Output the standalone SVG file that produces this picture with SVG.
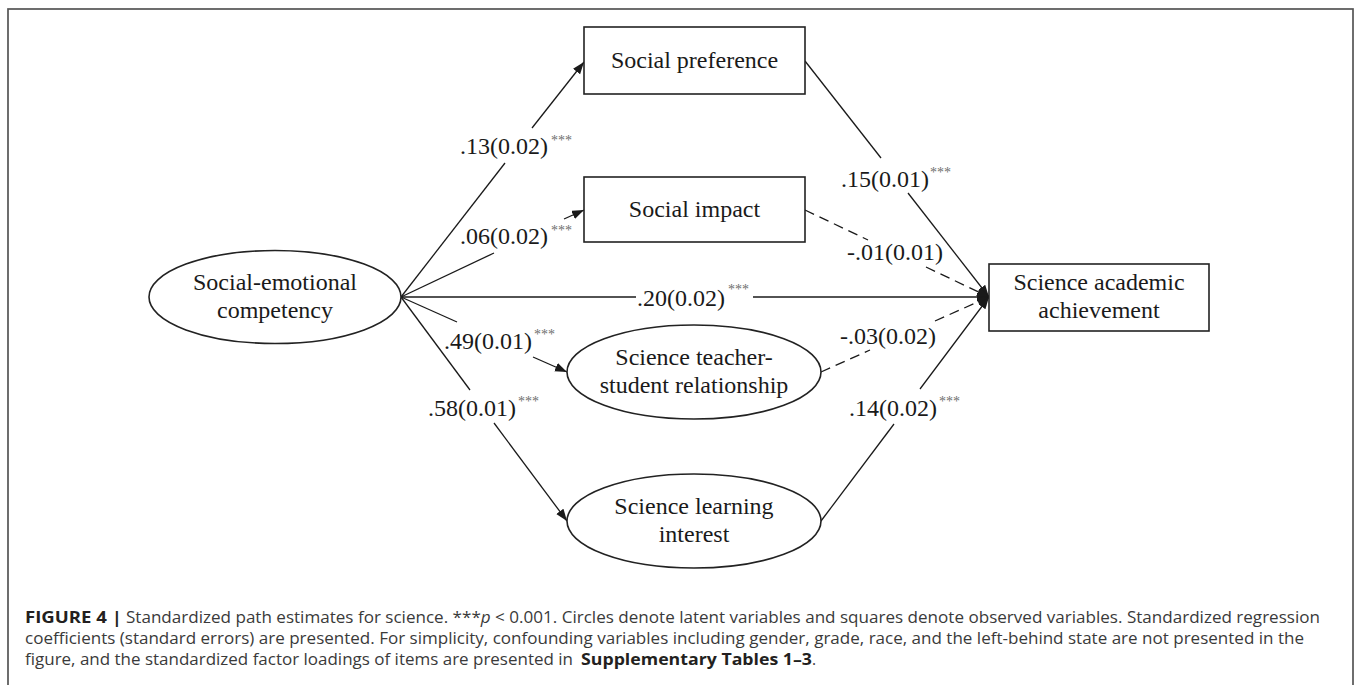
<svg xmlns="http://www.w3.org/2000/svg" width="1357" height="685" viewBox="0 0 1357 685">
<style>
.box{fill:#fff;stroke:#222;stroke-width:1.6}
.nt{font-family:"Liberation Serif","Times New Roman",serif;font-size:24px;fill:#1a1a1a;text-anchor:middle}
.lb{font-family:"Liberation Serif","Times New Roman",serif;font-size:24px;fill:#1a1a1a}
.st{font-family:"Liberation Serif","Times New Roman",serif;font-size:14px;fill:#6e6e6e}
.ln{stroke:#1a1a1a;stroke-width:1.3;fill:none}
.dash{stroke-dasharray:10 6}
.cap{font-family:"Open Sans","Liberation Sans",sans-serif;font-size:15.5px;fill:#3a3a3a}
.capb{font-weight:bold;fill:#231f20}
</style>
<defs>
<marker id="ah" markerUnits="userSpaceOnUse" markerWidth="13" markerHeight="10" refX="12" refY="4.5" orient="auto">
<path d="M0,0 L12,4.5 L0,9 z" fill="#1a1a1a"/>
</marker>
</defs>
<rect x="8" y="9" width="1345" height="700" fill="none" stroke="#555" stroke-width="1.7"/>

<g id="connectors">
  <g id="c-sec-pref">
    <line class="ln" x1="401" y1="297" x2="505" y2="163"/>
    <line class="ln" x1="532" y1="128" x2="584" y2="62" marker-end="url(#ah)"/>
    <text class="lb" x="460" y="154">.13(0.02)</text>
    <text class="st" x="551" y="145">***</text>
  </g>
  <g id="c-sec-impact">
    <line class="ln" x1="401" y1="297" x2="494" y2="253"/>
    <line class="ln" x1="564" y1="219" x2="584" y2="210" marker-end="url(#ah)"/>
    <text class="lb" x="460" y="244">.06(0.02)</text>
    <text class="st" x="551" y="235">***</text>
  </g>
  <g id="c-sec-ach">
    <line class="ln" x1="401" y1="297" x2="636" y2="297"/>
    <line class="ln" x1="753" y1="297" x2="989" y2="297" marker-end="url(#ah)"/>
    <text class="lb" x="637" y="306">.20(0.02)</text>
    <text class="st" x="728" y="294">***</text>
  </g>
  <g id="c-sec-teacher">
    <line class="ln" x1="401" y1="297" x2="457" y2="322"/>
    <line class="ln" x1="533" y1="357" x2="567" y2="372" marker-end="url(#ah)"/>
    <text class="lb" x="444" y="349">.49(0.01)</text>
    <text class="st" x="534" y="339">***</text>
  </g>
  <g id="c-sec-learn">
    <line class="ln" x1="401" y1="297" x2="470" y2="390"/>
    <line class="ln" x1="494" y1="423" x2="567" y2="521" marker-end="url(#ah)"/>
    <text class="lb" x="428" y="416">.58(0.01)</text>
    <text class="st" x="518" y="406">***</text>
  </g>
  <g id="c-pref-ach">
    <line class="ln" x1="805" y1="61" x2="881" y2="158"/>
    <line class="ln" x1="908" y1="193" x2="989" y2="297" marker-end="url(#ah)"/>
    <text class="lb" x="841" y="187">.15(0.01)</text>
    <text class="st" x="930" y="177">***</text>
  </g>
  <g id="c-impact-ach">
    <line class="ln dash" x1="805" y1="210" x2="868" y2="240"/>
    <line class="ln dash" x1="926" y1="267" x2="989" y2="297" marker-end="url(#ah)"/>
    <text class="lb" x="847" y="260">-.01(0.01)</text>
  </g>
  <g id="c-teacher-ach">
    <line class="ln dash" x1="821" y1="372" x2="870" y2="350"/>
    <line class="ln dash" x1="935" y1="321" x2="989" y2="297" marker-end="url(#ah)"/>
    <text class="lb" x="840" y="344">-.03(0.02)</text>
  </g>
  <g id="c-learn-ach">
    <line class="ln" x1="821" y1="521" x2="894" y2="424"/>
    <line class="ln" x1="920" y1="389" x2="989" y2="297" marker-end="url(#ah)"/>
    <text class="lb" x="849" y="416">.14(0.02)</text>
    <text class="st" x="939" y="406">***</text>
  </g>
</g>

<g id="node-sec">
  <ellipse class="box" cx="275" cy="297" rx="126" ry="46.5"/>
  <text class="nt" x="275" y="290">Social-emotional</text>
  <text class="nt" x="275" y="318">competency</text>
</g>
<g id="node-pref">
  <rect class="box" x="584" y="27" width="221" height="67"/>
  <text class="nt" x="694.5" y="68">Social preference</text>
</g>
<g id="node-impact">
  <rect class="box" x="584" y="177" width="221" height="65"/>
  <text class="nt" x="694.5" y="217">Social impact</text>
</g>
<g id="node-teacher">
  <ellipse class="box" cx="694" cy="372" rx="127" ry="47"/>
  <text class="nt" x="694" y="365">Science teacher-</text>
  <text class="nt" x="694" y="393">student relationship</text>
</g>
<g id="node-learn">
  <ellipse class="box" cx="694" cy="521" rx="127" ry="47"/>
  <text class="nt" x="694" y="514">Science learning</text>
  <text class="nt" x="694" y="542">interest</text>
</g>
<g id="node-ach">
  <rect class="box" x="989" y="264" width="220" height="67"/>
  <text class="nt" x="1099" y="290">Science academic</text>
  <text class="nt" x="1099" y="318">achievement</text>
</g>

<g id="caption">
  <text class="cap capb" x="25" y="623" textLength="97" lengthAdjust="spacingAndGlyphs">FIGURE 4 |</text>
  <text class="cap" x="126" y="623" textLength="1194" lengthAdjust="spacingAndGlyphs">Standardized path estimates for science. ***<tspan font-style="italic">p</tspan> &lt; 0.001. Circles denote latent variables and squares denote observed variables. Standardized regression</text>
  <text class="cap" x="25" y="644" textLength="1279" lengthAdjust="spacingAndGlyphs">coefficients (standard errors) are presented. For simplicity, confounding variables including gender, grade, race, and the left-behind state are not presented in the</text>
  <text class="cap" x="25" y="665" textLength="548" lengthAdjust="spacingAndGlyphs">figure, and the standardized factor loadings of items are presented in</text>
  <text class="cap capb" x="581" y="665" textLength="231" lengthAdjust="spacingAndGlyphs">Supplementary Tables 1–3</text>
  <text class="cap" x="812" y="665">.</text>
</g>
</svg>
